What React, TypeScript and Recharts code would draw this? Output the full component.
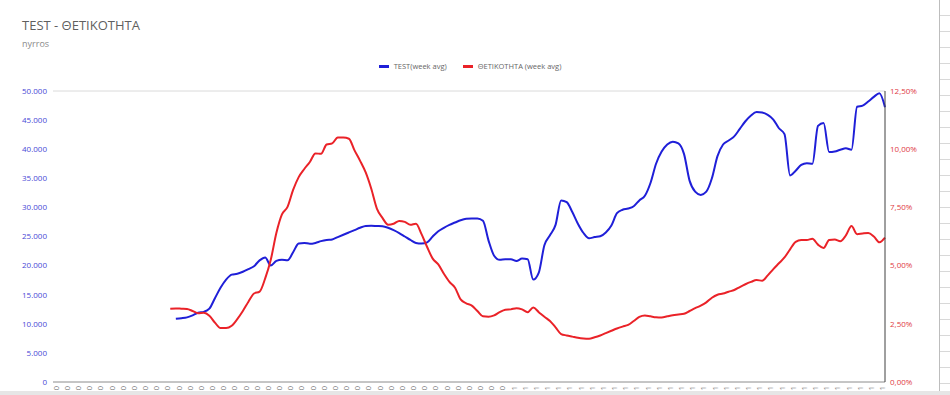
import { Legend, Line, LineChart, CartesianGrid, XAxis, YAxis } from "recharts";

// daily categories (labels clipped at the bottom in the source, only the year digit shows)
const startDate = new Date(2020, 6, 21);
const dates: string[] = Array.from({ length: 150 }, (_, i) => {
  const d = new Date(startDate.getTime() + i * 2 * 86400000);
  return `${d.getDate()}/${d.getMonth() + 1}/${d.getFullYear()}`;
});

// tests, 7-day average (null = no data yet)
const tests: (number | null)[] = [
  ...Array(22).fill(null),
  10850, 10950, 11100, 11450, 11900, 12050, 12600, 14400, 16200, 17600,
  18450, 18600, 18950, 19400, 19900, 20900, 21400, 20000, 20800, 21000,
  20900, 22300, 23800, 23900, 23750, 23900, 24200, 24400, 24500, 24900,
  25300, 25700, 26100, 26500, 26800, 26850, 26800, 26750, 26500, 26100,
  25600, 25000, 24400, 23900, 23800, 24000, 25000, 25900, 26500, 27000,
  27400, 27800, 28050, 28100, 28100, 27700, 24300, 21700, 21000, 21100,
  21100, 20800, 21200, 21100, 17600, 18800, 23500, 25200, 27000, 31200,
  30900, 29200, 27200, 25600, 24700, 24900, 25050, 25700, 26900, 29000,
  29600, 29800, 30200, 31200, 32000, 34200, 37500, 39600, 40800, 41300,
  41000, 39200, 34600, 32700, 32150, 32700, 35000, 38800, 40800, 41500,
  42200, 43500, 44800, 45800, 46400, 46300, 45900, 45100, 43600, 42600,
  35500, 36300, 37300, 37600, 37500, 44000, 44500, 39500, 39600, 39900,
  40150, 39900, 47300, 47500, 48200, 49000, 49600, 47200,
];

// positivity %, 7-day average
const positivity: (number | null)[] = [
  ...Array(21).fill(null),
  3.15, 3.16, 3.15, 3.14, 3.05, 2.95, 2.97, 2.85, 2.55, 2.32,
  2.32, 2.42, 2.7, 3.05, 3.45, 3.8, 3.88, 4.45, 5.25, 6.4,
  7.2, 7.52, 8.25, 8.8, 9.15, 9.45, 9.82, 9.8, 10.2, 10.25,
  10.5, 10.5, 10.45, 9.95, 9.5, 9.0, 8.3, 7.45, 7.05, 6.76,
  6.8, 6.92, 6.88, 6.75, 6.8, 6.35, 5.8, 5.3, 5.05, 4.65,
  4.3, 4.05, 3.55, 3.38, 3.28, 3.05, 2.82, 2.8, 2.86, 3.0,
  3.1, 3.12, 3.17, 3.12, 3.0, 3.2, 3.0, 2.8, 2.62, 2.35,
  2.06, 2.0, 1.95, 1.9, 1.87, 1.86, 1.92, 2.0, 2.1, 2.2,
  2.3, 2.38, 2.45, 2.62, 2.8, 2.86, 2.82, 2.78, 2.77, 2.82,
  2.87, 2.9, 2.93, 3.05, 3.17, 3.28, 3.42, 3.62, 3.75, 3.8,
  3.88, 3.95, 4.08, 4.2, 4.3, 4.38, 4.35, 4.58, 4.85, 5.1,
  5.35, 5.7, 6.02, 6.1, 6.1, 6.15, 5.9, 5.76, 6.1, 6.12,
  6.05, 6.3, 6.7, 6.35, 6.38, 6.4, 6.25, 6.0, 6.2,
];

const leftTicks = [0, 5000, 10000, 15000, 20000, 25000, 30000, 35000, 40000, 45000, 50000];
const rightTicks = [0, 2.5, 5, 7.5, 10, 12.5];

const data = dates.map((date, i) => ({
  date,
  test: tests[i],
  pos: positivity[i],
}));

const BLUE = "#1f1fd8";
const RED = "#ea2228";
const FONT = "'Open Sans', 'Noto Sans', sans-serif";

const fmtThousands = (v: number) =>
  String(v).replace(/\B(?=(\d{3})+(?!\d))/g, ".");
const fmtPercent = (v: number) => v.toFixed(2).replace(".", ",") + "%";

const LegendContent = () => (
  <div
    style={{
      display: "flex",
      justifyContent: "center",
      gap: 16,
      fontFamily: FONT,
      fontSize: 7.5,
      color: "#666",
    }}
  >
    <span style={{ display: "flex", alignItems: "center", gap: 5 }}>
      <span style={{ width: 10, height: 3, background: BLUE, display: "inline-block" }} />
      TEST(week avg)
    </span>
    <span style={{ display: "flex", alignItems: "center", gap: 5 }}>
      <span style={{ width: 10, height: 3, background: RED, display: "inline-block" }} />
      ΘΕΤΙΚΟΤΗΤΑ (week avg)
    </span>
  </div>
);

export default function App() {
  return (
    <div
      style={{
        position: "absolute",
        left: 0,
        top: 0,
        width: 950,
        height: 395,
        overflow: "hidden",
        background: "#fff",
        fontFamily: FONT,
      }}
    >
      <div style={{ position: "absolute", left: 22, top: 16, fontSize: 13, color: "#5f5f5f" }}>
        TEST - ΘΕΤΙΚΟΤΗΤΑ
      </div>
      <div style={{ position: "absolute", left: 22, top: 37, fontSize: 9, color: "#8a8a8a" }}>
        nyrros
      </div>
      <div style={{ position: "absolute", left: 0, top: 0 }}>
        <LineChart
          width={940}
          height={442}
          data={data}
          margin={{ top: 91, right: 5, left: 0, bottom: 0 }}
        >
          <CartesianGrid vertical={false} stroke="#dadada" />
          <Legend
            verticalAlign="middle"
            align="center"
            wrapperStyle={{ top: 61, left: 0, width: 940, height: 14 }}
            content={<LegendContent />}
          />
          <XAxis
            dataKey="date"
            interval={1}
            angle={-90}
            textAnchor="end"
            tickLine={false}
            tickSize={2}
            tick={{ fontSize: 8, fill: "#7a7a7a", fontFamily: FONT }}
            axisLine={{ stroke: "#9e9e9e" }}
            height={60}
          />
          <YAxis
            yAxisId="left"
            domain={[0, 50000]}
            ticks={leftTicks}
            tickFormatter={fmtThousands}
            axisLine={false}
            tickLine={false}
            tickSize={4}
            tickMargin={2}
            width={53}
            tick={{ fontSize: 8, fill: "#4848d6", fontFamily: FONT }}
          />
          <YAxis
            yAxisId="right"
            orientation="right"
            domain={[0, 12.5]}
            ticks={rightTicks}
            tickFormatter={fmtPercent}
            axisLine={{ stroke: "#404040" }}
            tickLine={false}
            tickSize={3}
            tickMargin={2}
            width={50}
            tick={{ fontSize: 8, fill: "#e03a44", fontFamily: FONT }}
          />
          <Line
            yAxisId="left"
            type="monotone"
            dataKey="test"
            stroke={BLUE}
            strokeWidth={2}
            dot={false}
            isAnimationActive={false}
          />
          <Line
            yAxisId="right"
            type="monotone"
            dataKey="pos"
            stroke={RED}
            strokeWidth={2}
            dot={false}
            isAnimationActive={false}
          />
        </LineChart>
      </div>
      <div
        style={{
          position: "absolute",
          left: 939,
          top: 0,
          width: 11,
          height: 395,
          borderLeft: "1px solid #bdbdbd",
          backgroundImage: "repeating-linear-gradient(#fff 0 15px, #d8d8d8 15px 16px)",
        }}
      />
      <div
        style={{
          position: "absolute",
          left: 0,
          top: 391,
          width: 950,
          height: 4,
          background: "#e6e6e6",
        }}
      />
    </div>
  );
}
